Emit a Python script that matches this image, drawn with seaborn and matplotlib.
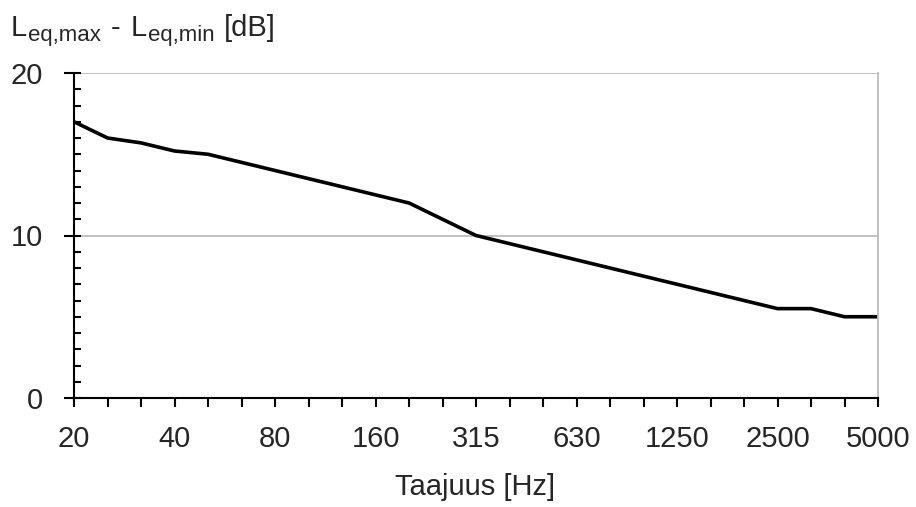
import numpy as np
import matplotlib
matplotlib.use("Agg")
import matplotlib.pyplot as plt
import seaborn as sns
from matplotlib.ticker import MultipleLocator
from matplotlib.transforms import IdentityTransform

# --- data: third-octave bands and level range ---
bands = ["20", "25", "31.5", "40", "50", "63", "80", "100", "125", "160",
         "200", "250", "315", "400", "500", "630", "800", "1000", "1250",
         "1600", "2000", "2500", "3150", "4000", "5000"]
level_range = [17.0, 16.0, 15.7, 15.2, 15.0, 14.5, 14.0, 13.5, 13.0, 12.5,
               12.0, 11.0, 10.0, 9.5, 9.0, 8.5, 8.0, 7.5, 7.0,
               6.5, 6.0, 5.5, 5.5, 5.0, 5.0]
shown_labels = ["20", "40", "80", "160", "315", "630", "1250", "2500", "5000"]

sns.set_theme(style="white")
plt.rcParams["font.family"] = ["Liberation Sans", "DejaVu Sans"]

W, H = 916, 507
FS = 21

fig = plt.figure(figsize=(W / 100, H / 100), dpi=100)
ax = fig.add_axes([74 / W, 1 - 398 / H, 804 / W, 325 / H])

pos = np.arange(len(bands))
sns.lineplot(x=pos, y=level_range, ax=ax, color="black", linewidth=2.6)

ax.set_xlim(0, len(bands) - 1)
ax.set_ylim(0, 20)

# x ticks: one per band, labels every third band
ax.set_xticks(pos)
ax.set_xticklabels([b if b in shown_labels else "" for b in bands])
ax.tick_params(axis="x", direction="out", length=6.5, width=1.5, color="black",
               labelsize=FS, pad=13, bottom=True)

# y ticks: majors out, minors in (also at the majors)
ax.yaxis.set_major_locator(MultipleLocator(10))
ax.yaxis.set_minor_locator(MultipleLocator(1))
ax.yaxis.remove_overlapping_locs = False
ax.tick_params(axis="y", which="major", direction="out", length=7.2, width=1.5,
               color="black", labelsize=FS, pad=15, left=True)
ax.tick_params(axis="y", which="minor", direction="in", length=5, width=1.5,
               color="black", left=True)

ax.yaxis.grid(True, color="#c0c0c0", linewidth=1.4)
ax.xaxis.grid(False)
ax.set_axisbelow(True)

for side in ["left", "bottom"]:
    ax.spines[side].set_color("black")
    ax.spines[side].set_linewidth(1.5)
ax.spines["top"].set_visible(False)
ax.spines["right"].set_color("#c0c0c0")
ax.spines["right"].set_linewidth(1.4)

ax.set_xlabel("")
ax.set_ylabel("")

# y-axis title with real subscripts, laid out piece by piece (pixel coords)
renderer = fig.canvas.get_renderer()
pieces = [("L", FS, 0), ("eq,max", 16, 5.5), ("-", FS, 0), ("L", FS, 0),
          ("eq,min", 16, 5.5), ("[dB]", FS, 0)]
gaps = [0, 1, 10, 10, 1, 10]
x = 11
for (txt, size, dy), gap in zip(pieces, gaps):
    x += gap
    t = fig.text(x, H - 36 - dy, txt, fontsize=size, va="baseline", ha="left",
                 transform=IdentityTransform())
    x = t.get_window_extent(renderer).x1

fig.text(475.5 / W, 1 - 495 / H, "Taajuus [Hz]", fontsize=FS,
         va="baseline", ha="center")

fig.savefig("out.png", dpi=100, facecolor="white")
